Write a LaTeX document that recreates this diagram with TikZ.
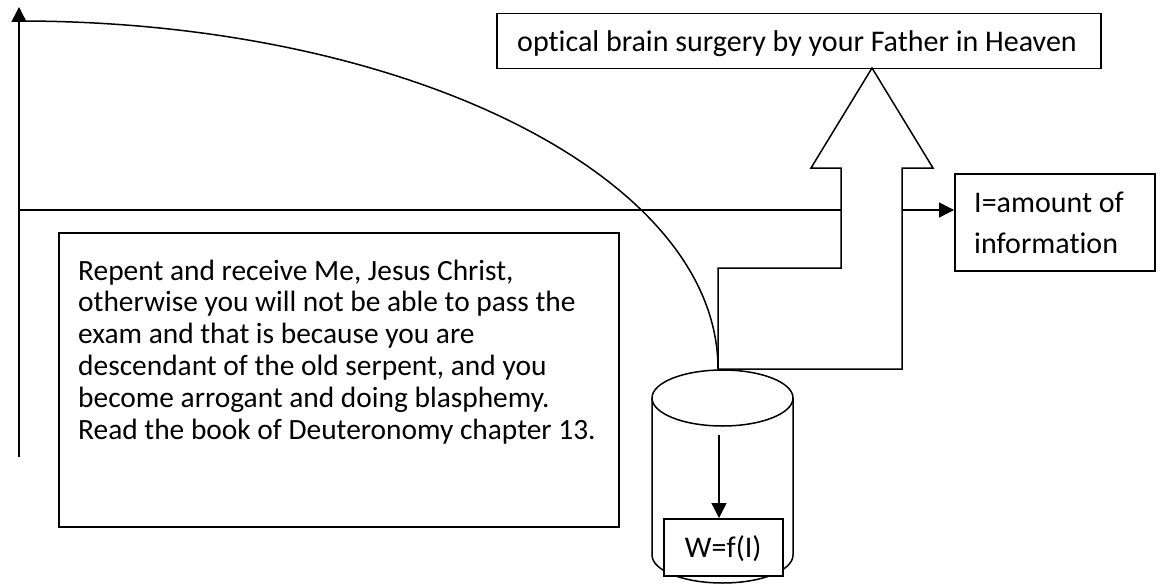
\documentclass[tikz,border=0pt]{standalone}
\usepackage{fontspec}
\setmainfont{Carlito}[Ligatures=NoCommon]
\usetikzlibrary{arrows.meta}
\begin{document}
\begin{tikzpicture}[x=1pt,y=-1pt,
  ln/.style={line width=1.5pt},
  box/.style={draw,line width=1.5pt,inner sep=0pt,anchor=north west},
  txt/.style={inner sep=0pt,font=\fontsize{30}{31.8}\selectfont},
  tip/.style={-{Triangle[length=15pt,width=15pt]}}]
\useasboundingbox (0,0) rectangle (1164,586);
% boxes
\node[box,minimum width=604pt,minimum height=55pt] (top) at (496,13) {};
\node[txt,anchor=base west] (toptxt) at (517,52) {optical brain surgery by your Father in Heaven};
\node[box,minimum width=200pt,minimum height=97pt] (ibox) at (954,173) {};
\node[txt,anchor=base west,align=left,font=\fontsize{30}{41}\selectfont] (itxt) at (974,253) {I=amount of\\information};
\node[box,minimum width=560pt,minimum height=294pt] (rep) at (58,232) {};
\node[txt,anchor=base west,align=left,font=\fontsize{29.4}{31.8}\selectfont] (reptxt) at (78,439) {Repent and receive Me, Jesus Christ,\\otherwise you will not be able to pass the\\exam and that is because you are\\descendant of the old serpent, and you\\become arrogant and doing blasphemy.\\Read the book of Deuteronomy chapter 13.};
% axis
\coordinate (axb) at (19,457);
\coordinate (axt) at (19,7);
\draw[ln,tip] (axb) -- (axt);
% cylinder
\draw[ln,fill=white] (652,398) -- (652,555) arc[start angle=180,end angle=360,x radius=70.5pt,y radius=28pt] -- (793,398);
\draw[ln] (722.5,398) ellipse[x radius=70.5pt,y radius=28pt];
\coordinate (cyltop) at (718,369);
\node[box,fill=white,minimum width=119pt,minimum height=57pt] (wbox) at (663,518) {};
\node[txt,anchor=base] (wtxt) at (wbox.center |- 0,557) {W=f(I)};
\coordinate (cylin) at (719,435);
\draw[ln,tip] (cylin) -- (cylin |- wbox.north);
% bent arrow
\draw[ln,line join=miter] (718,369) -- (718,268) -- (841,268) -- (841,168) -- (811,168) -- (872,68) -- (933,168) -- (902,168) -- (902,369) -- cycle;
% horizontal line
\coordinate (hl) at (19,210);
\draw[ln] (hl) -- (841,210);
\coordinate (hr) at (902,210);
\draw[ln,tip] (hr) -- (ibox.west |- hr);
% curve
\coordinate (cstart) at (19,21);
\draw[ln] (cstart) .. controls (405,21) and (718,176) .. (cyltop);
\end{tikzpicture}
\end{document}
